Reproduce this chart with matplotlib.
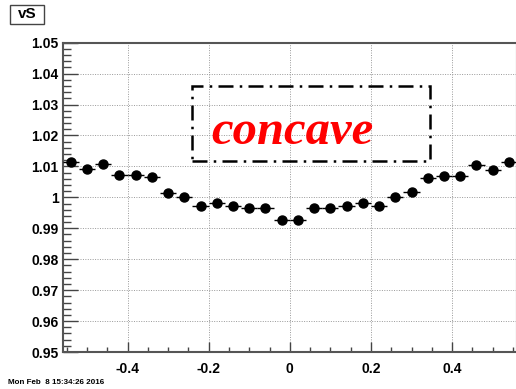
import matplotlib
matplotlib.use('Agg')
import matplotlib.pyplot as plt
from matplotlib.patches import Rectangle
from matplotlib.ticker import MultipleLocator, FixedFormatter, FixedLocator

# Bin centres (28 bins of width 0.04 between -0.56 and 0.56)
bin_centers = [-0.54, -0.50, -0.46, -0.42, -0.38, -0.34, -0.30, -0.26, -0.22, -0.18,
               -0.14, -0.10, -0.06, -0.02, 0.02, 0.06, 0.10, 0.14, 0.18, 0.22,
               0.26, 0.30, 0.34, 0.38, 0.42, 0.46, 0.50, 0.54]
vs_values = [1.0113, 1.0092, 1.0108, 1.0071, 1.0071, 1.0066, 1.0014, 1.0001, 0.9971, 0.9981,
             0.9971, 0.9965, 0.9965, 0.9927, 0.9927, 0.9964, 0.9964, 0.9972, 0.9983, 0.9972,
             1.0001, 1.0016, 1.0061, 1.0068, 1.0068, 1.0103, 1.0087, 1.0113]
bin_half_width = 0.02
vs_errors = [0.0003] * len(vs_values)

x_ticks = [-0.4, -0.2, 0.0, 0.2, 0.4]
x_tick_labels = ['-0.4', '-0.2', '0', '0.2', '0.4']
y_ticks = [0.95, 0.96, 0.97, 0.98, 0.99, 1.00, 1.01, 1.02, 1.03, 1.04, 1.05]
y_tick_labels = ['0.95', '0.96', '0.97', '0.98', '0.99', '1', '1.01', '1.02', '1.03', '1.04', '1.05']

W, H = 516, 389
fig = plt.figure(figsize=(W / 100, H / 100), dpi=100)
fig.patch.set_facecolor('white')

# axes frame in pixel coordinates
left, right = 62.6, 517.0
top, bottom = 42.7, 352.0
ax = fig.add_axes([left / W, 1 - bottom / H, (right - left) / W, (bottom - top) / H])

ax.set_xlim(-0.56, 0.56)
ax.set_ylim(0.95, 1.05)

# grid
ax.set_xticks(x_ticks)
ax.set_yticks(y_ticks)
ax.grid(True, which='major', linestyle=(0, (1, 1.5)), color='#999999', linewidth=0.7)
ax.set_axisbelow(True)

# data with horizontal bin-width errors
ax.errorbar(bin_centers, vs_values, xerr=bin_half_width, yerr=vs_errors, fmt='o',
            color='black', markersize=6.5, elinewidth=1.0, capsize=0, zorder=5)

# ticks
lab_font = {'family': 'Liberation Sans', 'weight': 'bold', 'size': 10}
ax.xaxis.set_major_locator(FixedLocator(x_ticks))
ax.xaxis.set_major_formatter(FixedFormatter(x_tick_labels))
ax.xaxis.set_minor_locator(MultipleLocator(0.05))
ax.yaxis.set_major_locator(FixedLocator(y_ticks))
ax.yaxis.set_major_formatter(FixedFormatter(y_tick_labels))
ax.yaxis.set_minor_locator(MultipleLocator(0.002))
ax.tick_params(axis='x', which='major', direction='in', length=7, width=1, color='#444444', pad=7)
ax.tick_params(axis='x', which='minor', direction='in', length=3.5, width=1, color='#444444')
ax.tick_params(axis='y', which='major', direction='in', length=11, width=1, color='#444444', pad=3)
ax.tick_params(axis='y', which='minor', direction='in', length=5.5, width=1, color='#444444')
ax.tick_params(top=False, right=False, which='both')
for lab in ax.get_xticklabels() + ax.get_yticklabels():
    lab.set_fontproperties(matplotlib.font_manager.FontProperties(**lab_font))

for sp in ax.spines.values():
    sp.set_color('#555555')
    sp.set_linewidth(1.5)

# dash-dot pave with label
box = Rectangle((-0.24, 1.0117), 0.585, 0.0243, fill=False, edgecolor='black',
                linewidth=1.8, linestyle=(0, (6, 2.5, 1, 2.5)), zorder=6)
ax.add_patch(box)
ax.text(0.007, 1.0212, 'concave', color='red', ha='center', va='center',
        fontsize=35, fontstyle='italic', fontweight='bold', family='Liberation Serif', zorder=7)

# histogram title box
fig.patches.append(Rectangle((10 / W, 1 - 24 / H), 34 / W, 19 / H, transform=fig.transFigure,
                             facecolor='white', edgecolor='#444444', linewidth=1))
fig.text(27 / W, 1 - 14.5 / H, 'vS', ha='center', va='center', fontsize=11,
         fontweight='bold', family='Liberation Sans')

# date stamp
fig.text(8 / W, 1 - 382 / H, 'Mon Feb  8 15:34:26 2016', ha='left', va='center', fontsize=5.8,
         fontweight='bold', family='Liberation Sans')

fig.savefig('out.png', dpi=100)
